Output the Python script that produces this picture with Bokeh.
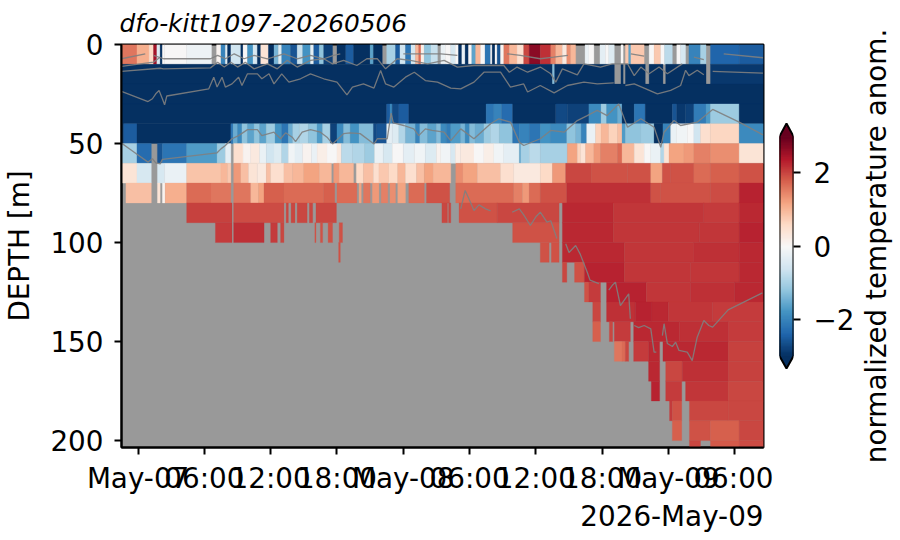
from bokeh.plotting import figure
from bokeh.layouts import row
from bokeh.models import ColumnDataSource, FixedTicker, LinearAxis, LinearColorMapper, Range1d, Title
from bokeh.embed import file_html
from bokeh.resources import INLINE
import numpy as np

N = None
title_text = "dfo-kitt1097-20260506"
date_text = "2026-May-09"
cbar_label = "normalized temperature anom."
y_label = "DEPTH [m]"
x_ticks = [0, 6, 12, 18, 24, 30, 36, 42, 48, 54]
x_tick_labels = ["May-07", "06:00", "12:00", "18:00", "May-08", "06:00", "12:00", "18:00", "May-09", "06:00"]
y_ticks = [0, 50, 100, 150, 200]
cbar_ticks = [-2, 0, 2]
t_start = -1.5
t_end = 56.6
depth_max = 203.5
bin_depth = 10
rdbu_r = ["#053061", "#2166ac", "#4393c3", "#92c5de", "#d1e5f0", "#f7f7f7", "#fddbc7", "#f4a582", "#d6604d", "#b2182b", "#67001f"]

# each row: (end hour of the run, normalised anomaly), None = no data
row00 = [(-0.1,1.6),(1.0,1.1),(1.4,0.6),(1.7,2.5),(2.0,-0.4),(2.2,-3),(2.4,0),(4.4,0.0),(6.65,-0.15),(7.1,N),(7.5,0.1),(7.9,-2),(8.1,-0.4),(8.4,-3),(9.3,-0.6),(9.5,-3),(9.9,0),(10.4,-1.8),(10.8,-0.5),(11.1,-3),(11.8,0.4),(12.3,-3),(12.7,-1.4),(13,-0.4),(13.8,-2),(14.4,-2.6),(14.9,-0.7),(15.6,-1.8),(15.9,-0.3),(16.4,-2.5),(16.8,-1.2),(17.6,-2.8),(18,N),(18.8,-3),(19.5,-2.5),(21,-3),(21.3,-1.6),(22.1,-3),(22.5,N),(23.3,-1),(23.7,-2.5),(24.2,-0.6),(24.7,-2.2),(25.1,-0.5),(25.4,1.0),(25.6,1.7),(25.9,0.2),(26.5,-1.2),(27.1,-0.7),(27.4,N),(27.8,-0.2),(28.3,0.0),(28.7,-0.5),(29,0),(29.3,-3),(29.6,-0.2),(29.9,-3),(30.2,0),(30.55,-1.6),(31,1.0),(31.4,0),(31.9,-2.2),(32.05,0),(32.3,-3),(32.5,0),(32.8,-2.6),(33.1,0.1),(33.6,1.6),(34.3,1.0),(34.9,0.5),(35.4,2.0),(36.4,2.7),(37.35,2.2),(37.8,1.5),(38.4,1.0),(38.8,0.3),(39.15,1.4),(39.6,1.0),(40.45,N),(40.8,-0.2),(41.25,0),(41.8,N),(42.3,-0.3),(42.6,0),(43.1,-0.4),(43.7,N),(43.9,0),(44.1,N),(44.4,0.8),(44.6,-1.6),(45.8,0.8),(46.25,N),(46.7,0),(47.3,0.8),(47.65,0),(48.35,-0.8),(48.75,N),(49.1,0),(49.55,-0.5),(49.85,N),(50.9,-2),(51.4,-1),(51.8,N),(54.4,-2.4),(56.6,-2.5)]
row01 = [(37.5,-3),(37.7,-1.3),(43.1,-3),(43.7,N),(43.9,-3),(44.1,N),(45.9,-3),(46.25,N),(47.5,-3),(47.75,N),(51.4,-3),(51.8,N),(56.6,-2.9)]
row02 = [(56.6,-3)]
row03 = [(22.5,-3),(22.8,-2.5),(23,-1.9),(23.6,-2.7),(24.5,-2.5),(31.5,-3),(32.2,-2.2),(32.9,-2.0),(33.9,-2.3),(37.8,-3),(38.85,-2.7),(40.8,-2.8),(41.9,-1.9),(42.4,-1.1),(43.4,-1.8),(43.8,-1.5),(44.9,-3),(45.9,-2.2),(48.35,-3),(48.75,-2.6),(49.55,-2.9),(50.3,-2.8),(51.4,-2.1),(51.8,-1.7),(54.4,-1.1),(56.6,-3)]
row04 = [(-1.3,-3),(-0.1,-2.5),(8.4,-3),(8.6,-2.2),(9.0,-1.5),(9.4,-1.9),(9.9,-1.2),(10.5,-1.6),(11,-1.2),(11.6,-1.6),(12.4,-1.1),(13,-1.8),(13.6,-2.2),(14,-1.5),(14.6,-1.0),(15.4,-0.9),(16.2,-1.2),(16.7,-1.7),(17.4,-1.0),(18,-2.8),(18.6,-1.9),(19.2,-1.3),(20,-1.8),(21.3,-1.3),(21.6,-2.7),(22.5,-2.6),(23.0,-0.3),(23.6,-0.4),(24.2,-0.9),(25.1,-1.4),(25.5,-2.0),(26.2,-1.3),(27,-1.6),(27.4,-1.3),(27.9,-1.9),(28.3,-2.1),(29.2,-1.7),(29.6,-1.4),(30.0,-1.9),(30.5,-1.3),(31.3,-1.5),(31.9,-1.1),(32.7,-0.9),(33.9,-1.2),(34.5,-2.2),(35.4,-2.0),(36.4,-2.2),(37.3,-1.8),(38.8,-1.9),(39.6,-1.2),(40.1,-1.4),(40.6,-2),(41.4,-0.2),(41.9,0.7),(42.6,1.0),(43.4,0.7),(43.8,0.9),(44.1,-1.7),(45.5,-1.2),(46.7,-1.1),(47.5,-3),(48.2,-2),(48.7,-0.2),(49.7,-0.1),(50.3,0.0),(50.9,-0.6),(51.8,0.5),(54.4,0.65),(56.6,-1.9)]
row05 = [(-0.1,-1),(1.2,-2.3),(1.75,N),(2.2,-2.6),(4.4,-2.2),(7.15,-1.7),(7.9,-1.1),(8.4,-0.3),(8.65,N),(9.5,0.5),(10.2,0.1),(11,0.3),(11.6,-0.2),(12.3,-0.6),(13,-0.4),(13.6,-0.9),(14.2,-0.1),(14.9,-0.3),(15.7,0.1),(16.2,-0.2),(17.1,0.2),(18,0.0),(18.4,0.3),(19.4,-0.8),(20.5,-0.9),(21.4,-1.1),(22.2,-0.2),(23,-0.5),(24,0),(25,-0.3),(26,-0.1),(27,-0.4),(27.4,0.1),(28.3,-0.1),(28.7,-0.5),(29.2,0.2),(30.4,0.3),(31.3,0.0),(32.2,0.2),(33.1,-0.1),(34.5,-0.3),(34.65,-1.5),(35.4,-1.0),(36.4,-0.8),(38.85,-1.0),(39.75,1.2),(40.05,0.7),(40.5,0.4),(41.25,1.0),(41.85,1.3),(43.4,1.5),(43.8,1.7),(44.9,1.0),(45.8,0.4),(46.4,0),(47.3,-0.2),(47.6,-0.9),(48.05,0.4),(49.4,1.2),(50.3,1.3),(51.8,1.5),(54.4,1.4),(56.6,0.4)]
row06 = [(-0.1,0.4),(1.2,-0.5),(1.75,N),(2.4,-0.5),(4.4,-0.2),(7.5,0.85),(8.1,1.0),(8.4,0.8),(8.65,N),(9.3,1.3),(10.0,0.9),(10.8,0.4),(11.6,0.3),(12,0.9),(13.2,0.5),(14,0.9),(15,1.0),(16.4,1.2),(17.5,1.0),(17.7,N),(18.2,1.3),(19.5,1.0),(19.75,N),(20.4,0.6),(21.3,0.9),(21.8,0.5),(22.7,0.8),(23.5,0.6),(24.2,1.0),(25.2,0.5),(25.9,0.9),(26.7,1.2),(28.3,1.0),(28.75,N),(29.4,1.4),(30.7,1.2),(32.8,0.9),(34,0.5),(36.4,0.3),(37.5,0.6),(38.7,1.3),(41,2.0),(44.3,1.9),(46.4,1.9),(47.45,1.2),(48.2,1.9),(50.3,1.9),(51.8,1.7),(54.4,1.8),(56.6,1.9)]
row07 = [(-1.1,N),(1.2,0.9),(1.75,N),(2.0,0.4),(2.2,N),(2.45,0.1),(4.4,1.1),(6.6,1.7),(8.4,1.6),(8.65,N),(10.2,1.6),(10.9,1.0),(11.4,1.2),(13.2,1.8),(16.8,1.7),(17.8,1.8),(18,N),(19.8,1.7),(20,N),(20.2,1.2),(20.4,N),(21,1.6),(21.2,N),(21.8,1.3),(22.0,N),(22.6,1.5),(22.8,N),(23.3,1.4),(23.5,N),(24.2,1.2),(24.5,N),(25.9,1.7),(26.1,N),(28.2,1.9),(28.75,N),(34,1.7),(34.8,1.5),(35.4,1.3),(36.4,1.7),(38.8,1.9),(46.4,2.2),(47.3,1.9),(51.8,1.9),(54.4,1.95),(56.6,2.3)]
row08 = [(4.4,N),(8.5,2.05),(8.65,N),(13.2,1.95),(13.4,N),(13.6,2.0),(13.85,N),(14.2,2.0),(14.4,N),(15.3,2.0),(15.5,N),(15.8,2.0),(16.1,N),(17.95,2.0),(27.5,N),(28,2),(28.1,N),(28.3,2),(29.05,N),(32.5,1.9),(38.1,2.0),(38.4,N),(43,2.25),(51.2,2.15),(54.4,2.1),(56.6,2.25)]
row09 = [(7.0,N),(8.5,2.1),(8.65,N),(11.4,2.2),(12,N),(12.6,2.1),(12.9,N),(13.2,2.0),(16.0,N),(16.1,1.9),(16.5,N),(16.7,1.9),(17.2,N),(17.6,1.9),(18.2,N),(18.5,1.9),(33.9,N),(38.1,1.9),(38.4,N),(43,2.25),(50.8,2.15),(54.4,2.15),(56.6,2.3)]
row10 = [(18.15,N),(18.3,1.9),(36.4,N),(37.2,1.9),(37.4,N),(38.1,1.9),(38.4,N),(44,2.25),(50.3,2.15),(54.4,2.2),(56.6,2.25)]
row11 = [(38.4,N),(38.8,2.0),(39.5,N),(40.4,1.9),(44,2.3),(50,2.15),(54.4,2.15),(56.6,2.25)]
row12 = [(40.4,N),(40.8,1.9),(41.85,2.1),(42.4,N),(46,2.3),(50,2.15),(54,2.2),(56.6,2.25)]
row13 = [(41.15,N),(41.85,2.0),(42.4,N),(45,2.2),(46.5,2.3),(48,2.25),(52,2.15),(56.6,2.1)]
row14 = [(41.15,N),(41.85,1.8),(42.65,N),(42.95,2.0),(43.1,N),(44.55,2.1),(44.85,N),(49,2.25),(53.4,2.2),(56.6,2.1)]
row15 = [(43.1,N),(43.8,1.6),(44.1,1.7),(44.4,2.0),(44.85,N),(46.2,2.1),(47.2,2.25),(47.5,N),(53.4,2.25),(56.6,2.05)]
row16 = [(46.2,N),(47.2,2.25),(47.75,N),(49.25,2.0),(53.4,2.2),(56.6,2.05)]
row17 = [(46.45,N),(47.2,2.3),(47.75,N),(49.2,2.1),(49.55,N),(53.4,2.15),(56.6,2.0)]
row18 = [(48.1,N),(48.35,2.1),(49.2,1.9),(49.9,N),(53.4,2.0),(56.6,2.0)]
row19 = [(48.35,N),(49.2,1.8),(49.9,N),(51.8,1.9),(54.4,1.8),(56.6,2.0)]
row20 = [(49.9,N),(50.9,2.0),(51.8,N),(54.4,1.85),(56.6,1.95)]
rows = [row00,row01,row02,row03,row04,row05,row06,row07,row08,row09,row10,row11,row12,row13,row14,row15,row16,row17,row18,row19,row20]

# grey isotherm traces: hours and depths, None = break
line_a_t = [-1.5,0.65,N,1.4,2.3,6.55,7.2,7.9,8.7,9.6,10.5,11.7,13.2,14.4,15.6,16.8,17.7,18.3,N,24,27.4,28.9,N,33.4,34.6,36.4,37.6,38.9,N,44.6,45.8,N,50.3,51.2,N,53,56.55]
line_a_d = [7.2,4.7,N,5.5,7.2,7.2,5.5,7.2,4.7,7.2,5.5,7.2,4.7,7.2,5.5,7.2,5.5,4.7,N,4.7,4.7,5.5,N,4.7,5.5,7.2,6.4,5.5,N,4.7,5.9,N,6.4,7.6,N,4.7,6.7]
line_b_t = [-1.5,1.4,2.0]
line_b_d = [11,8.9,6.4]
line_c_t = [-1.5,2,2.3,6.55,7.2,7.8,8.4,9,9.7,10.5,11.7,12.6,13.5,14.4,15.6,16.8,17.6,18.6,19.8,20.7,21.65,22.4,23.45,24.65,26.2,27.7,28.9,30.4,33.1,33.6,34.3,35.25,36.4,37.35,37.8,38.4,39.75,40.35,41.85,42.9,44.3,44.9,45.5,46.25,47.15,47.9,49.25]
line_c_d = [13.6,12,12.3,11.8,9,11.4,9,11.4,9,12.3,9.8,12.3,8,11.4,8,7.2,9.8,8,10.6,7.2,7.2,12.3,7.2,8,9.8,8,11.4,10.6,10.6,14,11.4,14,11.4,14.8,19,12.3,15.3,9.8,11.4,9.8,9.8,15.7,11.4,14.8,11.4,14.8,9.8]
line_d_t = [-1.5,0.9,1.3,1.6,1.9,2.2,2.4,2.6,6.4,6.85,7.15,7.6,7.9,8.5,9.1,9.4,9.9,10.8,11.2,11.85,12.3,13,13.65,14.7,15.6,16.8,18,18.9,19.4,20.4,21.35,21.95,22.4,23.15,24.2,25,26,27.1,28.3,29.2,30.4,31.3,32.8,33.7,34.9,35.25,36.4,37.65,38.85,40.35,41.55,43.05,N,44.1,44.9,45.8,47,48.2,49.1,49.55,49.85,50.6,51.2,N,52,56.55]
line_d_d = [23.7,28.8,27.4,24.9,23.2,27.4,30.5,26,22.4,16.5,21.5,16.5,21.5,19.9,16.5,20.7,14.8,14.8,17.3,14.8,19.9,14.8,19,17.3,14.8,17.3,19,25.4,21.5,19.9,22,13.1,19.9,21.5,16.5,14,18.2,19,22,22.4,19,14,14,21.5,19.9,24,20.7,24.4,20.7,19,19.9,19.4,N,20.7,19.9,22,24.9,23.2,20.7,13,15.7,13,15.3,N,13.6,14.5]
line_e_t = [-1.5,-0.7,0.9,1.3,1.6,2,2.2,7.15,7.5,7.9,8.5,9.1,9.9,10.8,11.2,12.3,12.9,13.35,13.95,14.25,14.85,15.6,16.5,17.1,17.6,18.6,19.2,20.1,21.35,21.65,22.55,22.9,23.1,24.05,24.95,25.4,26,26.6,27.7,28.3,29.2,30.4,31.9,32.65,33.7,34.5,34.9,36.4,37.35,38.55,39.75,40.65,41.55,42.45,43.5,44.3,45.5,46.7,47.3,47.6,48.5,49.1,50.6,52,54.4,56.55]
line_e_d = [49.8,53,59.4,57.7,59.8,60.3,58,54.7,52.7,51,47.6,46,43,43,46,44.3,47.6,44.6,46.8,49,44.3,43,44.3,46.8,50.2,45,44.6,45,50.2,47.6,47.6,34.7,39.6,40.9,42.6,46,42.6,43.4,44.3,48.5,42.6,47.6,40,37.5,39.2,49.3,51,47.6,43.4,44.3,38.4,35.9,33.3,35.9,30,41.8,37.5,41.8,51.9,44.3,38.4,40.9,39.2,32.8,39.2,45.6]
line_f_t = [29.2,29.6,29.95,30.4,30.85,31.45,31.9,N,33.85,34.5,34.9,35.5,36,36.4,37,37.35,37.9,N,38.7,39,39.6,40,40.65,40.9,41.7,N,42.6,42.9,43.2,43.65,44.4,44.55,N,44.9,45.3,45.8,46.4,46.7,46.9,N,47.45,47.6,47.9,48.35,48.65,48.95,49.7,50.15,50.6,51.2,51.65,52,53.4,56.5]
line_f_d = [83,73.7,78,83.8,81,83,84,N,84.7,83,86,91.4,87,84.7,89.7,89,98,N,100.6,105,101.5,105.7,115,119,120.8,N,124,121.7,120,131.8,125.9,138.5,N,141.9,143,141.9,143.6,155.3,155.3,N,147,141,151,152.5,150.3,154.5,155.3,159.6,147.8,139.4,141.9,142.7,134,125.4]
traces = [(line_a_t,line_a_d),(line_b_t,line_b_d),(line_c_t,line_c_d),(line_d_t,line_d_d),(line_e_t,line_e_d),(line_f_t,line_f_d)]

FONT = "DejaVu Sans"
TICK = "27.8px"

# 256-colour version of the diverging palette
_rgb = np.array([[int(c[i:i+2], 16) for i in (1, 3, 5)] for c in rdbu_r], dtype=float)
_pos = np.linspace(0, 1, len(rdbu_r))
_fine = np.linspace(0, 1, 256)
palette = ["#%02x%02x%02x" % tuple(int(round(np.interp(f, _pos, _rgb[:, k]))) for k in range(3)) for f in _fine]
mapper = LinearColorMapper(palette=palette, low=-3, high=3)

left, right, top, bottom, val = [], [], [], [], []
for i, segs in enumerate(rows):
    start = t_start
    for end, v in segs:
        if v is not None:
            left.append(start); right.append(end)
            top.append(i * bin_depth); bottom.append((i + 1) * bin_depth)
            val.append(v)
        start = end
src = ColumnDataSource(dict(left=left, right=right, top=top, bottom=bottom, val=val))

P_W, CB_W, LAB_W, H = 773, 84, 40, 532
p = figure(width=P_W, height=H, output_backend="svg", toolbar_location=None,
           x_range=Range1d(t_start, t_end), y_range=Range1d(depth_max, 0),
           min_border_left=121, min_border_right=10, min_border_top=44, min_border_bottom=83)
p.background_fill_color = "#999999"
p.border_fill_color = "white"
p.grid.visible = False
p.outline_line_color = "black"
p.outline_line_width = 2
p.quad(left="left", right="right", top="top", bottom="bottom", source=src,
       fill_color={"field": "val", "transform": mapper}, line_color={"field": "val", "transform": mapper}, line_width=0.3)
for tt, dd in traces:
    p.line([np.nan if v is None else v for v in tt], [np.nan if v is None else v for v in dd],
           line_color="#808080", line_width=1.3, line_alpha=0.9)

for ax in (p.xaxis[0], p.yaxis[0]):
    ax.axis_line_width = 2
    ax.major_tick_line_width = 2
    ax.major_tick_out = 7
    ax.major_tick_in = 0
    ax.minor_tick_line_color = None
    ax.major_label_text_font = FONT
    ax.major_label_text_font_size = TICK
    ax.major_label_text_color = "black"
    ax.axis_label_text_font = FONT
    ax.axis_label_text_font_size = TICK
    ax.axis_label_text_font_style = "normal"
    ax.axis_label_text_color = "black"
p.xaxis[0].ticker = FixedTicker(ticks=x_ticks)
p.xaxis[0].major_label_overrides = dict(zip(x_ticks, x_tick_labels))
p.yaxis[0].ticker = FixedTicker(ticks=y_ticks)
p.yaxis[0].axis_label = y_label
p.yaxis[0].major_label_standoff = 11
p.yaxis[0].axis_label_standoff = 11
p.xaxis[0].major_label_standoff = 7

p.title = Title(text=title_text, text_font=FONT, text_font_size="24.8px", text_font_style="italic",
                text_color="black", align="left", standoff=13, offset=-2)
p.add_layout(Title(text=date_text, text_font=FONT, text_font_size=TICK, text_font_style="normal",
                   text_color="black", align="right", offset=0, standoff=0), "below")

# colour bar as its own small panel; same frame height as the main panel
cb = figure(width=CB_W, height=H, output_backend="svg", toolbar_location=None,
            x_range=Range1d(0, 1), y_range=Range1d(-5.5, 5.51),
            min_border_left=6, min_border_right=64, min_border_top=44, min_border_bottom=83)
cb.outline_line_color = None
cb.grid.visible = False
cb.xaxis.visible = False
cb.yaxis.visible = False
edges = np.linspace(-3, 3, 257)
cb.quad(left=0, right=1, bottom=edges[:-1], top=edges[1:], fill_color=palette, line_color=palette, line_width=1)
cb.patch([0, 0.5, 1], [3, 3.35, 3], fill_color=rdbu_r[-1], line_color=None)
cb.patch([0, 0.5, 1], [-3, -3.34, -3], fill_color=rdbu_r[0], line_color=None)
cb.line([0, 0.5, 1, 1, 0.5, 0, 0], [3, 3.35, 3, -3, -3.34, -3, 3], line_color="black", line_width=2)
ax = LinearAxis(ticker=FixedTicker(ticks=cbar_ticks))
ax.major_label_overrides = {-2: "\u22122", 0: "0", 2: "2"}
ax.axis_line_color = None
ax.major_tick_line_width = 2
ax.major_tick_out = 7
ax.major_tick_in = 0
ax.major_label_standoff = 13
ax.minor_tick_line_color = None
ax.major_label_text_font = FONT
ax.major_label_text_font_size = TICK
ax.major_label_text_color = "black"
cb.add_layout(ax, "right")

# third narrow panel: only carries the colour-bar title, read bottom to top
lab = figure(width=LAB_W, height=H, output_backend="svg", toolbar_location=None,
             x_range=Range1d(0, 1), y_range=Range1d(0, 1),
             min_border_left=39, min_border_right=0, min_border_top=44, min_border_bottom=83)
lab.outline_line_color = None
lab.grid.visible = False
lab.xaxis.visible = False
ly = lab.yaxis[0]
ly.ticker = FixedTicker(ticks=[])
ly.axis_line_color = None
ly.major_tick_line_color = None
ly.minor_tick_line_color = None
ly.major_label_text_color = None
ly.axis_label = cbar_label
ly.axis_label_standoff = 5
ly.axis_label_text_font = FONT
ly.axis_label_text_font_size = TICK
ly.axis_label_text_font_style = "normal"
ly.axis_label_text_color = "black"

layout = row(p, cb, lab, spacing=0)
open("out.html", "w").write(file_html(layout, INLINE))
